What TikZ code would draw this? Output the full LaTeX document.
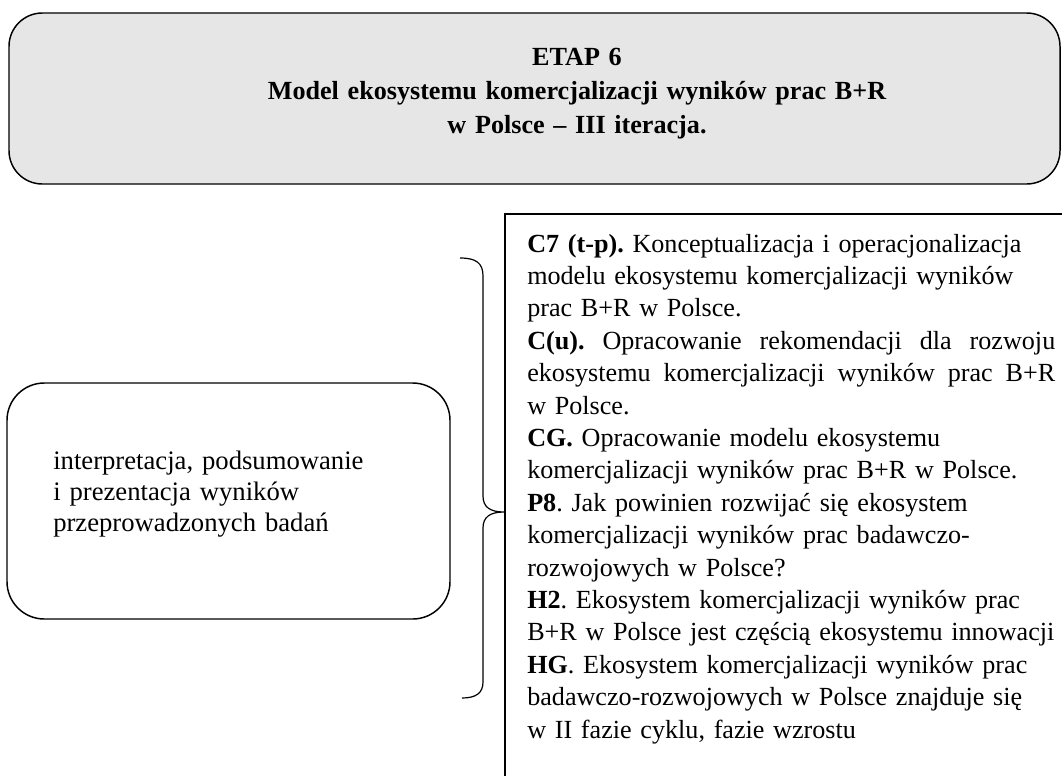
\documentclass[tikz,border=0pt]{standalone}
\usepackage{fontspec}
\setmainfont{Liberation Serif}
\definecolor{topfill}{HTML}{E6E6E6}
\newcommand\jline[1]{{\spaceskip=0.25em plus 1fil\relax\makebox[396pt][s]{#1}}}
\tikzset{
  boxline/.style={draw=black, line width=1.1pt},
  titlebox/.style={boxline, fill=topfill, rounded corners=25pt, inner sep=0pt},
  leftbox/.style={boxline, fill=white, rounded corners=28pt, inner sep=0pt},
  rightbox/.style={boxline, inner sep=0pt},
  bracestyle/.style={draw=black, line width=0.9pt},
  titletext/.style={inner sep=0pt, align=center, text width=700pt,
    font=\fontsize{19.6pt}{25.5pt}\selectfont\bfseries},
  lefttext/.style={inner sep=0pt, align=left, text width=320pt,
    font=\fontsize{20pt}{23.25pt}\selectfont},
  righttext/.style={inner sep=0pt, align=left, text width=430pt,
    font=\fontsize{19.6pt}{24.3pt}\selectfont},
}
\begin{document}
\frenchspacing
\hyphenpenalty=10000
\begin{tikzpicture}[x=0.75pt,y=-0.75pt]
\useasboundingbox (0,0) rectangle (1062,775);
\clip (0,0) rectangle (1062,775);
\fill[white] (0,0) rectangle (1062,775);

% boxes
\node[titlebox, minimum width=788.25pt, minimum height=128.25pt] (top) at (534.5,98.5) {};
\node[leftbox, minimum width=332.25pt, minimum height=177pt] (left) at (228.5,501) {};
\node[rightbox, minimum width=446.25pt, minimum height=454.5pt] (right) at (802.5,517) {};

% title
\node[titletext, anchor=base] (title) at (577,65)
  {ETAP 6\\ Model ekosystemu komercjalizacji wyników prac B+R\\ w Polsce – III iteracja.};

% left text
\node[lefttext, anchor=base west] (ltext) at (53,469)
  {interpretacja, podsumowanie\\ i prezentacja wyników\\ przeprowadzonych badań};

% right text
\node[righttext, anchor=base west] (rtext) at (527,252)
  {\textbf{C7 (t-p).} Konceptualizacja i operacjonalizacja\\
   modelu ekosystemu komercjalizacji wyników\\
   prac B+R w Polsce.\\
   \jline{\textbf{C(u).} Opracowanie rekomendacji dla rozwoju}\\
   \jline{ekosystemu komercjalizacji wyników prac B+R}\\
   w Polsce.\\
   \textbf{CG.} Opracowanie modelu ekosystemu\\
   komercjalizacji wyników prac B+R w Polsce.\\
   \textbf{P8}. Jak powinien rozwijać się ekosystem\\
   komercjalizacji wyników prac badawczo-\\
   rozwojowych w Polsce?\\
   \textbf{H2}. Ekosystem komercjalizacji wyników prac\\
   B+R w Polsce jest częścią ekosystemu innowacji\\
   \textbf{HG}. Ekosystem komercjalizacji wyników prac\\
   badawczo-rozwojowych w Polsce znajduje się\\
   w II fazie cyklu, fazie wzrostu};

% brace
\coordinate (bt) at (460,258);
\coordinate (btip) at (504,512);
\coordinate (bb) at (462,698);
\draw[bracestyle] (bt) .. controls (476,258) and (483,263) .. (483,276)
  -- (483,496) .. controls (483,507) and (490,512) .. (btip)
  .. controls (490,512) and (483,517) .. (483,528)
  -- (483,682) .. controls (483,693) and (476,698) .. (bb);
\end{tikzpicture}
\end{document}
